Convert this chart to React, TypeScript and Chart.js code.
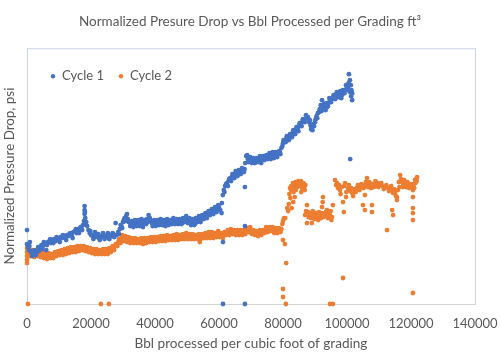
import { useEffect, useRef } from 'react';
import { Chart, registerables } from 'chart.js';

Chart.register(...registerables);

const TITLE = 'Normalized Presure Drop vs Bbl Processed per Grading ft³';
const X_TITLE = 'Bbl processed per cubic foot of grading';
const Y_TITLE = 'Normalized Pressure Drop, psi';
const SERIES_NAMES = ['Cycle 1', 'Cycle 2'];
const SERIES_COLORS = ['#4472C4', '#ED7D31'];
const X_TICKS = [0, 20000, 40000, 60000, 80000, 100000, 120000, 140000];

// [bbl processed per ft3, normalized pressure drop]
const cycle1: [number, number][] = [
  [0, 0.74], [0, 0.60], [300, 0.57], [600, 0.54], [900, 0.62], [1200, 0.52], [1600, 0.48], [2000, 0.50],
  [2500, 0.54], [3000, 0.52], [3500, 0.57], [4000, 0.55], [4500, 0.59], [5000, 0.58], [5500, 0.61], [6000, 0.54],
  [6500, 0.62], [7000, 0.63], [7500, 0.61], [8000, 0.64], [8500, 0.65], [9000, 0.63], [9500, 0.66], [10000, 0.65],
  [10500, 0.67], [11000, 0.66], [11500, 0.68], [12000, 0.67], [12500, 0.69], [13000, 0.68], [13500, 0.71], [14000, 0.69],
  [14500, 0.72], [15000, 0.73], [15500, 0.71], [16000, 0.75], [16500, 0.74], [17000, 0.77], [17500, 0.79], [17800, 0.83],
  [18000, 0.90], [18000, 0.94], [18000, 0.98], [18200, 0.86], [18500, 0.82], [18800, 0.78], [19200, 0.74], [19600, 0.71],
  [20000, 0.69], [20500, 0.68], [21000, 0.70], [21500, 0.67], [22000, 0.68], [22500, 0.66], [23000, 0.68], [23500, 0.67],
  [24000, 0.69], [24500, 0.67], [25000, 0.68], [25500, 0.66], [26000, 0.69], [26500, 0.68], [27000, 0.70], [27700, 0.81],
  [28000, 0.69], [28500, 0.72], [29000, 0.75], [29500, 0.78], [30000, 0.82], [30500, 0.86], [31000, 0.88], [31500, 0.85],
  [32000, 0.82], [32500, 0.80], [33000, 0.81], [33500, 0.79], [34000, 0.81], [34500, 0.82], [35000, 0.80], [35500, 0.82],
  [36000, 0.79], [36500, 0.81], [37000, 0.83], [37500, 0.85], [38400, 0.86], [39000, 0.81], [39500, 0.80], [40000, 0.82],
  [40500, 0.80], [41000, 0.81], [41500, 0.83], [42000, 0.81], [42500, 0.82], [43000, 0.80], [43500, 0.82], [44000, 0.83],
  [44500, 0.81], [45000, 0.82], [45500, 0.84], [46000, 0.83], [46500, 0.82], [47000, 0.84], [47500, 0.82], [48000, 0.83],
  [48500, 0.81], [49000, 0.84], [49500, 0.86], [50000, 0.85], [50500, 0.83], [51000, 0.82], [51500, 0.81], [52000, 0.83],
  [52500, 0.80], [53000, 0.84], [53500, 0.86], [54000, 0.84], [54500, 0.86], [55000, 0.87], [55500, 0.88], [56000, 0.89],
  [56500, 0.90], [57000, 0.91], [57500, 0.92], [58000, 0.93], [58500, 0.94], [59000, 0.94], [59500, 0.95], [60000, 0.97],
  [60400, 0.94], [60800, 0.91], [60900, 1.01], [61200, 1.09], [61500, 1.14], [61900, 1.18], [62500, 1.21], [63000, 1.23],
  [63500, 1.26], [64000, 1.27], [64500, 1.29], [65000, 1.30], [65500, 1.31], [66000, 1.31], [66500, 1.32], [67000, 1.33],
  [67500, 1.34], [68000, 1.35], [68200, 1.41], [68500, 1.48], [69000, 1.45], [69500, 1.46], [70000, 1.44], [70500, 1.43],
  [71000, 1.45], [71500, 1.42], [72000, 1.44], [72500, 1.46], [73000, 1.43], [73500, 1.45], [74000, 1.47], [74500, 1.45],
  [75000, 1.47], [75500, 1.49], [76000, 1.47], [76500, 1.48], [77000, 1.50], [77500, 1.48], [78000, 1.49], [78500, 1.51],
  [79000, 1.52], [79500, 1.56], [80000, 1.61], [80500, 1.64], [81000, 1.65], [81500, 1.67], [82000, 1.66], [82500, 1.69],
  [83000, 1.71], [83500, 1.73], [84000, 1.74], [84500, 1.76], [85000, 1.78], [85500, 1.80], [86000, 1.82], [86500, 1.84],
  [87000, 1.85], [87500, 1.86], [87800, 1.87], [88200, 1.82], [88600, 1.79], [89000, 1.77], [89400, 1.80], [90000, 1.82],
  [90500, 1.88], [90900, 1.91], [91500, 1.95], [92200, 2.04], [92500, 1.96], [93000, 1.97], [93750, 1.97], [94200, 2.01],
  [94700, 2.04], [95200, 2.05], [95600, 2.06], [96000, 2.07], [96500, 2.09], [97200, 2.11], [97700, 2.10], [98400, 2.09],
  [98900, 2.12], [99400, 2.14], [99900, 2.16], [100300, 2.17], [100600, 2.30], [100900, 2.24], [101200, 2.19], [101400, 2.14],
  [101600, 2.11], [101600, 2.04], [101000, 1.45],
  [61250, 0.62], [68100, 0.78], [68100, 1.17], [61250, 0], [68100, 0],
];

// second edge of the Cycle 1 band (the band is several readings thick)
const cycle1Spread: [number, number][] = [
  [750, 0.58], [1750, 0.53], [2750, 0.49], [3750, 0.53], [4750, 0.55], [5250, 0.62], [6250, 0.59], [7250, 0.65],
  [8250, 0.61], [9250, 0.67], [10250, 0.62], [11250, 0.69], [12250, 0.64], [13250, 0.70], [14250, 0.66], [15250, 0.75],
  [16250, 0.71], [16750, 0.77], [17250, 0.74], [18100, 0.92], [18300, 0.80],
  [19800, 0.73], [20750, 0.65], [21250, 0.72], [22250, 0.70], [22750, 0.64], [23750, 0.71], [24250, 0.65], [25250, 0.71],
  [25750, 0.65], [26750, 0.71], [27250, 0.67], [28750, 0.70], [29250, 0.79], [29750, 0.76], [30250, 0.84], [30750, 0.83],
  [31250, 0.90], [31750, 0.82], [32250, 0.78], [32750, 0.83], [33250, 0.77], [33750, 0.84], [34250, 0.78], [34750, 0.84],
  [35250, 0.78], [35750, 0.85], [36250, 0.77], [36750, 0.84], [37250, 0.80], [37750, 0.82], [38000, 0.89], [38750, 0.83],
  [39250, 0.78], [39750, 0.84], [40250, 0.78], [40750, 0.84], [41250, 0.79], [41750, 0.85], [42250, 0.79], [42750, 0.84],
  [43250, 0.78], [43750, 0.85], [44250, 0.79], [44750, 0.84], [45250, 0.80], [45750, 0.86], [46250, 0.80], [46750, 0.85],
  [47250, 0.80], [47750, 0.85], [48250, 0.80], [48750, 0.86], [49250, 0.82], [49750, 0.88], [50250, 0.81], [50750, 0.86],
  [51250, 0.79], [51750, 0.85], [52250, 0.79], [52750, 0.86], [53250, 0.82], [53750, 0.88], [54250, 0.82], [54750, 0.89],
  [55250, 0.85], [55750, 0.91], [56250, 0.86], [56750, 0.93], [57250, 0.89], [57750, 0.95], [58250, 0.90], [58750, 0.97],
  [59250, 0.92], [59750, 0.99],
  [61700, 1.12], [62200, 1.20], [62800, 1.18], [63200, 1.25], [63800, 1.23], [64200, 1.30], [64800, 1.26], [65200, 1.33],
  [65800, 1.28], [66200, 1.34], [66800, 1.30], [67200, 1.36], [67800, 1.32],
  [68800, 1.49], [69200, 1.42], [69800, 1.47], [70200, 1.41], [70800, 1.46], [71200, 1.41], [71800, 1.46], [72200, 1.42],
  [72800, 1.48], [73200, 1.41], [73800, 1.48], [74200, 1.44], [74800, 1.49], [75200, 1.45], [75800, 1.51], [76200, 1.45],
  [76800, 1.52], [77200, 1.46], [77800, 1.52], [78200, 1.47], [78800, 1.53], [79200, 1.50],
  [79800, 1.58], [80200, 1.64], [80800, 1.62], [81200, 1.68], [81800, 1.64], [82200, 1.70], [82800, 1.67], [83200, 1.74],
  [83800, 1.70], [84200, 1.77], [84800, 1.73], [85200, 1.81], [85800, 1.78], [86200, 1.85], [86800, 1.82], [87200, 1.89],
  [88400, 1.84], [88800, 1.75], [89200, 1.74], [89700, 1.78], [90200, 1.85], [90700, 1.86], [91200, 1.92], [91800, 1.99],
  [92000, 1.93], [92800, 2.00], [93300, 1.94], [93500, 2.01], [94000, 1.98], [94500, 2.06], [95000, 2.02], [95800, 2.09],
  [96300, 2.05], [96800, 2.12], [97400, 2.07], [97900, 2.13], [98200, 2.06], [98700, 2.14], [99200, 2.11], [99700, 2.19],
  [100100, 2.14], [100500, 2.21], [101000, 2.12], [101300, 2.08],
];

const cycle2: [number, number][] = [
  [300, 0], [23100, 0], [25600, 0],
  [0, 0.56], [0, 0.52], [0, 0.48], [0, 0.44], [0, 0.41], [500, 0.50], [1000, 0.53], [1500, 0.51], [2000, 0.49],
  [2500, 0.52], [3000, 0.50], [3500, 0.51], [4000, 0.49], [4500, 0.50], [5000, 0.48], [5500, 0.49], [6000, 0.47],
  [6500, 0.48], [7000, 0.49], [7500, 0.47], [8000, 0.48], [8500, 0.49], [9000, 0.50], [9500, 0.51], [10000, 0.50],
  [10500, 0.52], [11000, 0.51], [11500, 0.52], [12000, 0.53], [12500, 0.52], [13000, 0.54], [13500, 0.53], [14000, 0.54],
  [14500, 0.55], [15000, 0.54], [15500, 0.55], [16000, 0.56], [16500, 0.55], [17000, 0.56], [17500, 0.57], [18000, 0.55],
  [18500, 0.54], [19000, 0.55], [19500, 0.53], [20000, 0.54], [20500, 0.52], [21000, 0.53], [21500, 0.52], [22000, 0.53],
  [22500, 0.51], [23000, 0.52], [23500, 0.53], [24000, 0.52], [24500, 0.53], [25000, 0.52], [25500, 0.54], [26000, 0.53],
  [26500, 0.55], [27000, 0.56], [27500, 0.58], [28000, 0.60], [28500, 0.62], [29000, 0.64], [29500, 0.66], [30000, 0.67],
  [30500, 0.65], [31000, 0.66], [31500, 0.64], [32000, 0.65], [32500, 0.63], [33000, 0.64], [33500, 0.63], [34000, 0.64],
  [34500, 0.62], [35000, 0.63], [35500, 0.64], [36000, 0.63], [36500, 0.62], [37000, 0.64], [37500, 0.63], [38000, 0.64],
  [38500, 0.65], [39000, 0.64], [39500, 0.63], [40000, 0.65], [40500, 0.64], [41000, 0.66], [41500, 0.65], [42000, 0.64],
  [42500, 0.66], [43000, 0.65], [43500, 0.66], [44000, 0.67], [44500, 0.65], [45000, 0.66], [45500, 0.67], [46000, 0.66],
  [46500, 0.68], [47000, 0.67], [47500, 0.66], [48000, 0.67], [48500, 0.68], [49000, 0.67], [49500, 0.68], [50000, 0.69],
  [50500, 0.67], [51000, 0.68], [51500, 0.67], [52000, 0.68], [52500, 0.66], [53000, 0.67], [53500, 0.68], [54000, 0.62],
  [54500, 0.68], [55000, 0.67], [55500, 0.69], [56000, 0.68], [56500, 0.70], [57000, 0.68], [57500, 0.69], [58000, 0.70],
  [58500, 0.68], [59000, 0.69], [59500, 0.71], [60000, 0.70], [60500, 0.69], [61000, 0.68], [61500, 0.70], [62000, 0.71],
  [62500, 0.72], [63000, 0.71], [63500, 0.72], [64000, 0.74], [64500, 0.72], [65000, 0.71], [65500, 0.72], [66000, 0.71],
  [66500, 0.72], [67000, 0.71], [67500, 0.72], [68000, 0.71], [68500, 0.73], [69000, 0.75], [69500, 0.74], [70000, 0.72],
  [70500, 0.71], [71000, 0.72], [71500, 0.71], [72000, 0.70], [72500, 0.71], [73000, 0.72], [73500, 0.71], [74000, 0.73],
  [74500, 0.74], [75000, 0.75], [75500, 0.74], [76000, 0.76], [76500, 0.75], [77000, 0.74], [77500, 0.73], [78000, 0.74],
  [78500, 0.73], [79000, 0.74], [79500, 0.75], [79800, 0.80], [80000, 0.83], [80300, 0.86],
  [80000, 0.64], [80600, 0.60], [81000, 0.41], [80000, 0.15], [80000, 0.07], [80900, 0],
  [80700, 0.86], [81300, 0.96], [81600, 0.93], [82700, 0.96], [83200, 1.02], [82000, 1.10], [82500, 1.14], [83000, 1.17],
  [83300, 1.12], [83700, 1.07], [83800, 1.19], [84200, 1.21], [84600, 1.19], [85000, 1.21], [85400, 1.22], [85700, 1.12],
  [85800, 1.20], [86200, 1.19], [86600, 1.17], [87000, 1.19],
  [86900, 0.89], [87500, 0.99], [87500, 0.81], [87800, 0.92], [88300, 0.90], [89000, 0.91], [89000, 0.81], [89500, 0.88],
  [90000, 0.89], [90500, 0.86], [90900, 0.87], [91500, 0.89], [92200, 0.91], [92200, 0.97], [92500, 1.07], [93100, 0.89],
  [93750, 0.94], [94200, 0.90], [94700, 0.89], [95300, 0.87], [95600, 0.99], [94700, 0], [95600, 0], [98750, 0.26],
  [98750, 1.02], [99000, 0.92], [99700, 1.07],
  [96250, 1.24], [96900, 1.21], [97200, 1.16], [97800, 1.14], [99400, 1.21], [100300, 1.16], [101000, 1.13], [101600, 1.11],
  [102300, 1.15], [103100, 1.16], [103600, 1.18], [104100, 1.17], [104800, 1.18], [105600, 1.19], [106250, 1.26], [106700, 1.20],
  [107200, 1.19], [108000, 1.20], [108750, 1.20], [109500, 1.21], [110300, 1.19], [111100, 1.18], [111900, 1.17], [112800, 1.16],
  [113500, 1.15], [114100, 1.14], [114400, 1.11], [115000, 1.11], [115600, 1.07], [115900, 1.14], [116600, 1.29], [117200, 1.22],
  [117600, 1.20], [118100, 1.21], [118600, 1.20], [119100, 1.19], [119700, 1.18], [120300, 1.17], [120600, 1.14], [120900, 1.20],
  [121250, 1.24], [121600, 1.25], [121900, 1.27], [120600, 1.07], [105600, 1.09], [105000, 0.99], [105600, 0.94], [107800, 0.99],
  [107800, 0.92], [114100, 0.94], [114400, 0.89], [115600, 1.04], [120600, 0.96], [120600, 0.91], [120600, 0.84], [112500, 0.74],
  [120600, 0.11],
];

// second edge of the Cycle 2 band
const cycle2Spread: [number, number][] = [
  [250, 0.47], [750, 0.55], [1250, 0.48], [1750, 0.54], [2250, 0.47], [2750, 0.53], [3250, 0.48], [3750, 0.53],
  [4250, 0.47], [4750, 0.52], [5250, 0.46], [5750, 0.51], [6250, 0.45], [6750, 0.51], [7250, 0.46], [7750, 0.50],
  [8250, 0.46], [8750, 0.52], [9250, 0.48], [9750, 0.53], [10250, 0.49], [10750, 0.54], [11250, 0.49], [11750, 0.55],
  [12250, 0.50], [12750, 0.56], [13250, 0.51], [13750, 0.57], [14250, 0.52], [14750, 0.57], [15250, 0.52], [15750, 0.58],
  [16250, 0.53], [16750, 0.58], [17250, 0.54], [17750, 0.58], [18250, 0.53], [18750, 0.57], [19250, 0.52], [19750, 0.56],
  [20250, 0.51], [20750, 0.55], [21250, 0.50], [21750, 0.55], [22250, 0.50], [22750, 0.54], [23250, 0.50], [23750, 0.55],
  [24250, 0.50], [24750, 0.55], [25250, 0.50], [25750, 0.56], [26250, 0.52], [26750, 0.58], [27250, 0.54], [27750, 0.60],
  [28250, 0.58], [28750, 0.65], [29250, 0.61], [29750, 0.69],
  [30250, 0.63], [30750, 0.68], [31250, 0.62], [31750, 0.67], [32250, 0.61], [32750, 0.66], [33250, 0.61], [33750, 0.66],
  [34250, 0.61], [34750, 0.65], [35250, 0.61], [35750, 0.66], [36250, 0.60], [36750, 0.66], [37250, 0.61], [37750, 0.66],
  [38250, 0.62], [38750, 0.67], [39250, 0.62], [39750, 0.67], [40250, 0.62], [40750, 0.67], [41250, 0.63], [41750, 0.68],
  [42250, 0.63], [42750, 0.68], [43250, 0.63], [43750, 0.69], [44250, 0.64], [44750, 0.68], [45250, 0.64], [45750, 0.69],
  [46250, 0.64], [46750, 0.70], [47250, 0.64], [47750, 0.69], [48250, 0.65], [48750, 0.70], [49250, 0.65], [49750, 0.71],
  [50250, 0.65], [50750, 0.70], [51250, 0.65], [51750, 0.70], [52250, 0.65], [52750, 0.69], [53250, 0.65], [53750, 0.70],
  [54250, 0.65], [54750, 0.70], [55250, 0.66], [55750, 0.71], [56250, 0.66], [56750, 0.72], [57250, 0.66], [57750, 0.72],
  [58250, 0.66], [58750, 0.71], [59250, 0.67], [59750, 0.73], [60250, 0.67], [60750, 0.71], [61250, 0.66], [61750, 0.72],
  [62250, 0.69], [62750, 0.74], [63250, 0.69], [63750, 0.75], [64250, 0.70], [64750, 0.74], [65250, 0.69], [65750, 0.74],
  [66250, 0.69], [66750, 0.74], [67250, 0.69], [67750, 0.74], [68250, 0.70], [68750, 0.76], [69250, 0.72], [69750, 0.77],
  [70250, 0.70], [70750, 0.74], [71250, 0.69], [71750, 0.73], [72250, 0.68], [72750, 0.74], [73250, 0.69], [73750, 0.74],
  [74250, 0.71], [74750, 0.77], [75250, 0.72], [75750, 0.77], [76250, 0.73], [76750, 0.77], [77250, 0.71], [77750, 0.76],
  [78250, 0.71], [78750, 0.76], [79250, 0.72],
  [82200, 1.16], [82600, 1.18], [83100, 1.21], [83500, 1.16], [83900, 1.22], [84400, 1.17], [84800, 1.23], [85200, 1.18],
  [85600, 1.23], [86000, 1.16], [86400, 1.21], [86800, 1.14], [84000, 1.14], [82300, 1.06], [81800, 1.00],
  [87200, 0.93], [88000, 0.87], [88700, 0.86], [89300, 0.93], [89800, 0.85], [90300, 0.91], [91000, 0.84], [91300, 0.92],
  [91900, 0.86], [92700, 0.87], [93400, 0.92], [94000, 0.86], [94900, 0.93], [95100, 0.84], [92400, 1.02],
  [96600, 1.19], [97500, 1.19], [98000, 1.10], [98300, 1.17], [99100, 1.18], [99800, 1.12], [100600, 1.19], [101300, 1.16],
  [101900, 1.08], [102700, 1.12], [103400, 1.19], [103900, 1.14], [104500, 1.20], [105200, 1.16], [105900, 1.22], [106500, 1.17],
  [107000, 1.22], [107500, 1.16], [108400, 1.17], [108900, 1.23], [109200, 1.18], [109800, 1.17], [110700, 1.21], [111500, 1.15],
  [112300, 1.19], [113100, 1.13], [113800, 1.18], [114700, 1.15], [115300, 1.08], [116200, 1.22], [116900, 1.25], [117400, 1.17],
  [117900, 1.24], [118400, 1.17], [118900, 1.22], [119400, 1.16], [120000, 1.20], [121000, 1.16], [121400, 1.21], [121800, 1.23],
  [116400, 1.17],
];

const SERIES = [cycle1.concat(cycle1Spread), cycle2.concat(cycle2Spread)];

const FONT = 'Lato, "Open Sans", sans-serif';
const TEXT_COLOR = '#595959';

const framePlugin = {
  id: 'frame',
  beforeDatasetsDraw(chart: any) {
    const { ctx, chartArea: a } = chart;
    ctx.save();
    ctx.lineWidth = 1;
    ctx.strokeStyle = '#cbd4ea';
    ctx.strokeRect(a.left + 0.5, a.top + 0.5, a.right - a.left, a.bottom - a.top);
    ctx.strokeStyle = '#d4d4d4';
    ctx.beginPath();
    ctx.moveTo(a.left, a.bottom + 0.5);
    ctx.lineTo(a.right, a.bottom + 0.5);
    ctx.stroke();
    ctx.restore();
  },
};

const legendPlugin = {
  id: 'innerLegend',
  afterDraw(chart: any) {
    const { ctx, chartArea: a } = chart;
    ctx.save();
    ctx.font = `13px ${FONT}`;
    ctx.textBaseline = 'middle';
    let x = a.left + 26;
    const y = a.top + 28;
    SERIES_NAMES.forEach((name, i) => {
      ctx.fillStyle = SERIES_COLORS[i];
      ctx.beginPath();
      ctx.arc(x, y, 2.2, 0, Math.PI * 2);
      ctx.fill();
      ctx.fillStyle = TEXT_COLOR;
      ctx.fillText(name, x + 9, y);
      x += 9 + ctx.measureText(name).width + 17;
    });
    ctx.restore();
  },
};

export default function App() {
  const ref = useRef<HTMLCanvasElement>(null);
  useEffect(() => {
    document.body.style.margin = '0';
    const chart = new Chart(ref.current!, {
      type: 'scatter',
      data: {
        datasets: SERIES.map((s, i) => ({
          label: SERIES_NAMES[i],
          data: s.map(([x, y]) => ({ x, y })),
          backgroundColor: SERIES_COLORS[i],
          borderColor: SERIES_COLORS[i],
          pointRadius: 2.4,
          pointBorderWidth: 0,
          clip: false as any,
        })),
      },
      options: {
        responsive: false,
        animation: false,
        layout: { padding: 0 },
        plugins: {
          legend: { display: false },
          tooltip: { enabled: false },
          title: {
            display: true,
            text: TITLE,
            color: TEXT_COLOR,
            font: { family: FONT, size: 13.5, weight: 'normal', lineHeight: 1.2 },
            padding: { top: 14, bottom: 18 },
          },
        },
        scales: {
          x: {
            type: 'linear',
            min: 0,
            max: 140000,
            afterBuildTicks: (s: any) => { s.ticks = X_TICKS.map((v) => ({ value: v })); },
            ticks: {
              color: TEXT_COLOR,
              font: { family: FONT, size: 13 },
              padding: 12,
              maxRotation: 0,
              autoSkip: false,
              callback: (v: any) => String(v),
            },
            grid: { display: false, drawTicks: false },
            border: { display: false },
            title: {
              display: true,
              text: X_TITLE,
              color: TEXT_COLOR,
              font: { family: FONT, size: 13.6, lineHeight: 1.2 },
              padding: { top: 0, bottom: 5 },
            },
            afterFit: (s: any) => { s.height = 53; s.paddingLeft = 0; s.paddingRight = 25; },
          },
          y: {
            type: 'linear',
            min: 0,
            max: 2.56,
            ticks: { display: false },
            grid: { display: false, drawTicks: false },
            border: { display: false },
            title: {
              display: true,
              text: Y_TITLE,
              color: TEXT_COLOR,
              font: { family: FONT, size: 13.4, lineHeight: 1.2 },
              padding: { top: 2, bottom: 0 },
            },
            afterFit: (s: any) => { s.width = 27; s.paddingTop = 0; s.paddingBottom = 0; },
          },
        },
      },
      plugins: [framePlugin, legendPlugin],
    });
    return () => chart.destroy();
  }, []);
  return <canvas ref={ref} width={500} height={357} style={{ display: 'block' }} />;
}
